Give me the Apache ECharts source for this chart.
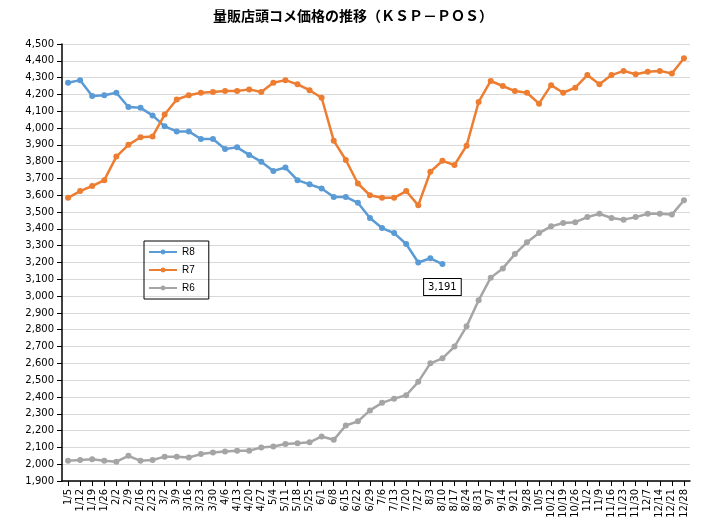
<!DOCTYPE html>
<html><head><meta charset="utf-8">
<script src="https://cdn.jsdelivr.net/npm/echarts@6/dist/echarts.min.js"></script>
<style>body{margin:0;background:#fff}#chart{width:706px;height:524px}</style>
</head><body><div id="chart"></div>
<script>
var categories = ['1/5','1/12','1/19','1/26','2/2','2/9','2/16','2/23','3/2','3/9','3/16','3/23','3/30','4/6','4/13','4/20','4/27','5/4','5/11','5/18','5/25','6/1','6/8','6/15','6/22','6/29','7/6','7/13','7/20','7/27','8/3','8/10','8/17','8/24','8/31','9/7','9/14','9/21','9/28','10/5','10/12','10/19','10/26','11/2','11/9','11/16','11/23','11/30','12/7','12/14','12/21','12/28'];
var r8 = [4270,4285,4190,4195,4210,4125,4120,4075,4010,3980,3980,3935,3935,3875,3885,3840,3800,3745,3765,3690,3665,3640,3590,3590,3555,3465,3405,3375,3310,3200,3225,3191];
var r7 = [3585,3625,3655,3690,3830,3900,3945,3950,4080,4170,4195,4210,4215,4220,4220,4230,4215,4270,4285,4260,4225,4180,3925,3810,3670,3600,3585,3585,3625,3540,3740,3805,3780,3895,4155,4280,4250,4220,4210,4145,4255,4210,4240,4315,4260,4315,4340,4320,4335,4340,4325,4415];
var r6 = [2020,2025,2030,2020,2015,2050,2020,2025,2045,2045,2040,2060,2070,2075,2080,2080,2100,2105,2120,2125,2130,2165,2145,2230,2255,2320,2365,2390,2410,2490,2600,2630,2700,2820,2975,3110,3165,3250,3320,3375,3415,3435,3440,3470,3490,3465,3455,3470,3490,3490,3485,3570];

var chart = echarts.init(document.getElementById('chart'));
function ser(name, data, color) {
    return {
        name: name, type: 'line', data: data,
        symbol: 'circle', symbolSize: 6,
        lineStyle: {color: color, width: 2.5},
        itemStyle: {color: color},
        animation: false
    };
}
var s8 = ser('R8', r8, '#5b9bd5');
s8.data = r8.map(function (v, i) {
    if (i === r8.length - 1) {
        return {value: v, label: {
            show: true, position: 'bottom', distance: 12, offset: [0, 0],
            formatter: function (p) { return p.value.toLocaleString('en-US'); },
            color: '#000', fontSize: 10, fontFamily: 'DejaVu Sans',
            borderColor: '#000', borderWidth: 1, padding: [3, 4], backgroundColor: '#fff'
        }};
    }
    return v;
});
chart.setOption({
    backgroundColor: '#fff',
    title: {
        text: '量販店頭コメ価格の推移（ＫＳＰ－ＰＯＳ）', left: 'center', top: 4,
        textStyle: {fontSize: 14, fontWeight: 'bold', color: '#000', fontFamily: 'Noto Sans CJK JP'}
    },
    grid: {left: 62, right: 16, top: 44, bottom: 43},
    legend: {
        orient: 'vertical', left: 144, top: 241, itemGap: 8,
        itemWidth: 28, itemHeight: 6,
        data: ['R8', 'R7', 'R6'],
        borderColor: '#000', borderWidth: 1, padding: [6, 14, 6, 4],
        textStyle: {fontSize: 10, color: '#000'}
    },
    xAxis: {
        type: 'category', data: categories, boundaryGap: true,
        axisLine: {lineStyle: {color: '#000', width: 1.5}},
        axisTick: {show: true, alignWithLabel: true, interval: 0, lineStyle: {color: '#000'}},
        axisLabel: {rotate: 90, interval: 0, fontSize: 10, color: '#000', fontFamily: 'DejaVu Sans'}
    },
    yAxis: {
        type: 'value', min: 1900, max: 4500, interval: 100,
        axisLine: {show: true, lineStyle: {color: '#000', width: 1.5}},
        axisTick: {show: true, lineStyle: {color: '#000'}},
        splitLine: {lineStyle: {color: '#d9d9d9'}},
        axisLabel: {fontSize: 10, color: '#000', fontFamily: 'DejaVu Sans',
            formatter: function (v) { return v.toLocaleString('en-US'); }}
    },
    series: [s8, ser('R7', r7, '#ed7d31'), ser('R6', r6, '#a5a5a5')]
});
</script>
</body></html>
